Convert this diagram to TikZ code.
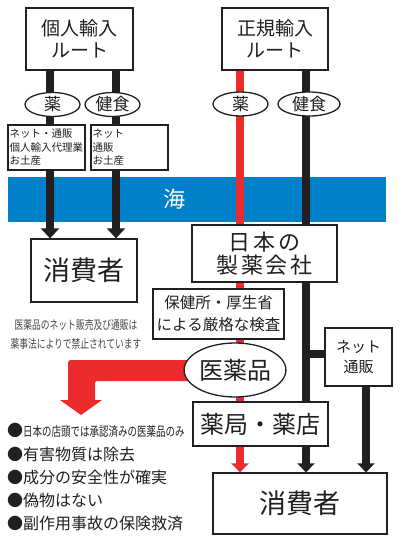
\documentclass[tikz,border=0pt]{standalone}
\usepackage{fontspec}
\usepackage{graphicx}
\setmainfont{Noto Sans CJK JP}
\newfontfamily\jpls[LetterSpace=12]{Noto Sans CJK JP}
\usetikzlibrary{shapes.geometric,arrows.meta}
\definecolor{seablue}{RGB}{0,128,200}
\definecolor{rred}{RGB}{236,43,45}
\definecolor{blk}{RGB}{35,31,32}
\definecolor{notegray}{RGB}{70,70,70}
\pgfdeclarelayer{sealayer}
\pgfdeclarelayer{linelayer}
\pgfsetlayers{sealayer,linelayer,main}
\newcommand{\jfs}[2]{\fontsize{#1}{#2}\selectfont}
\tikzset{
 box/.style={draw=blk, line width=1.3pt, fill=white, inner sep=0pt, align=center, text=blk},
 oval/.style={ellipse, draw=blk, line width=1.3pt, fill=white, inner sep=0pt, text=blk},
 blkline/.style={draw=blk, line width=8pt},
 redline/.style={draw=rred, line width=8pt},
 tipL/.style={-{Triangle[width=18pt,length=10pt]}},
 tipR/.style={-{Triangle[width=17pt,length=9pt]}},
 bullet/.style={anchor=west, inner sep=0pt, text=blk},
}
\begin{document}
\begin{tikzpicture}[x=1pt,y=-1pt]
\useasboundingbox (0,0) rectangle (400,543);
\begin{pgfonlayer}{sealayer}
\fill[white] (0,0) rectangle (400,543);
\node[fill=seablue, minimum width=378pt, minimum height=45pt, inner sep=0pt] (sea) at (197,199.5) {};
\end{pgfonlayer}
\node[text=white, font=\jfs{22}{24}] (seatext) at (174,199) {海};

% top boxes
\node[box, minimum width=107pt, minimum height=62pt, font=\jfs{19}{22}] (kojin) at (79.5,39) {個人輸入\\ルート};
\node[box, minimum width=106pt, minimum height=62pt, font=\jfs{19}{22}] (seiki) at (275,39) {正規輸入\\ルート};

% ellipses
\node[oval, minimum width=55pt, minimum height=24pt, font=\jfs{17}{17}] (k1) at (52.5,104.5) {薬};
\node[oval, minimum width=55pt, minimum height=24pt, font=\jfs{17}{17}] (k2) at (112.5,104.5) {健食};
\node[oval, minimum width=55pt, minimum height=24pt, font=\jfs{17}{17}] (s1) at (240.5,104) {薬};
\node[oval, minimum width=62pt, minimum height=24pt, font=\jfs{17}{17}] (s2) at (309,104) {健食};

% small text boxes
\node[box, align=left, text width=74pt, inner xsep=1.5pt, minimum height=45pt, font=\jfs{10.5}{13.5}] (t1) at (46.5,147.5) {ネット・通販\\個人輸入代理業\\お土産};
\node[box, align=left, text width=74pt, inner xsep=1.5pt, minimum height=45pt, font=\jfs{10.5}{13.5}] (t2) at (129.5,147.5) {ネット\\通販\\お土産};

% consumers left
\node[box, minimum width=106pt, minimum height=63pt, font=\jfs{27}{27}] (cons1) at (84,270.5) {消費者};
\node[text=notegray, align=center, inner sep=0pt, font=\jfs{12}{19}] (note) at (76,334.5) {\scalebox{0.73}[1]{医薬品のネット販売及び通販は}\\\scalebox{0.73}[1]{薬事法によりで禁止されています}};

% right column
\node[box, minimum width=145pt, minimum height=57pt, font=\jpls\jfs{22}{23}] (maker) at (264.5,253.5) {日本の\\製薬会社};
\node[box, minimum width=131pt, minimum height=50pt, font=\jfs{15.5}{22}] (check) at (218.5,314) {保健所・厚生省\\による厳格な検査};
\node[oval, minimum width=96pt, minimum height=54pt, font=\jfs{24}{24}] (iyaku) at (235,370) {医薬品};
\node[box, minimum width=135pt, minimum height=44pt, font=\jfs{24}{24}] (shop) at (260.5,424) {薬局・薬店};
\node[box, minimum width=67pt, minimum height=58pt, font=\jfs{15}{20}] (net) at (358.5,357) {ネット\\通販};
\node[box, minimum width=174pt, minimum height=61pt, font=\jfs{27}{27}] (cons2) at (300,503.5) {消費者};

% bullets
\node[bullet, font=\jfs{16}{16}] (b1) at (7,430) {●{\jfs{13}{13}\scalebox{0.73}[1]{日本の店頭では承認済みの医薬品のみ}}};
\node[bullet, font=\jfs{16}{16}] (b2) at (7,454) {●有害物質は除去};
\node[bullet, font=\jfs{16}{16}] (b3) at (7,477) {●成分の安全性が確実};
\node[bullet, font=\jfs{16}{16}] (b4) at (7,500) {●偽物はない};
\node[bullet, font=\jfs{16}{16}] (b5) at (7,523) {●副作用事故の保険救済};

% connectors
\coordinate (xL1) at (50,0);
\coordinate (xL2) at (116,0);
\coordinate (xR1) at (240,0);
\coordinate (xR2) at (306,0);
\coordinate (xN) at (366,0);
\coordinate (yStub) at (0,354);
\coordinate (redtip) at (81,415);
\begin{pgfonlayer}{linelayer}
\draw[blkline,tipL] (kojin.south -| xL1) -- (cons1.north -| xL1);
\draw[blkline,tipL] (kojin.south -| xL2) -- (cons1.north -| xL2);
\draw[redline,tipR] (seiki.south -| xR1) -- (cons2.north -| xR1);
\draw[blkline,tipR] (seiki.south -| xR2) -- (cons2.north -| xR2);
\draw[blkline] (xR2 |- yStub) -- (net.west |- yStub);
\draw[blkline,tipR] (net.south -| xN) -- (cons2.north -| xN);
\fill[rred] (200,360) -- (74,360) .. controls (68,360) .. (68,366) -- (68,400) -- (60,400) -- (redtip) -- (102,400) -- (95,400) -- (95,386) .. controls (95,381) .. (100,381) -- (200,381) -- cycle;
\end{pgfonlayer}
\end{tikzpicture}
\end{document}
